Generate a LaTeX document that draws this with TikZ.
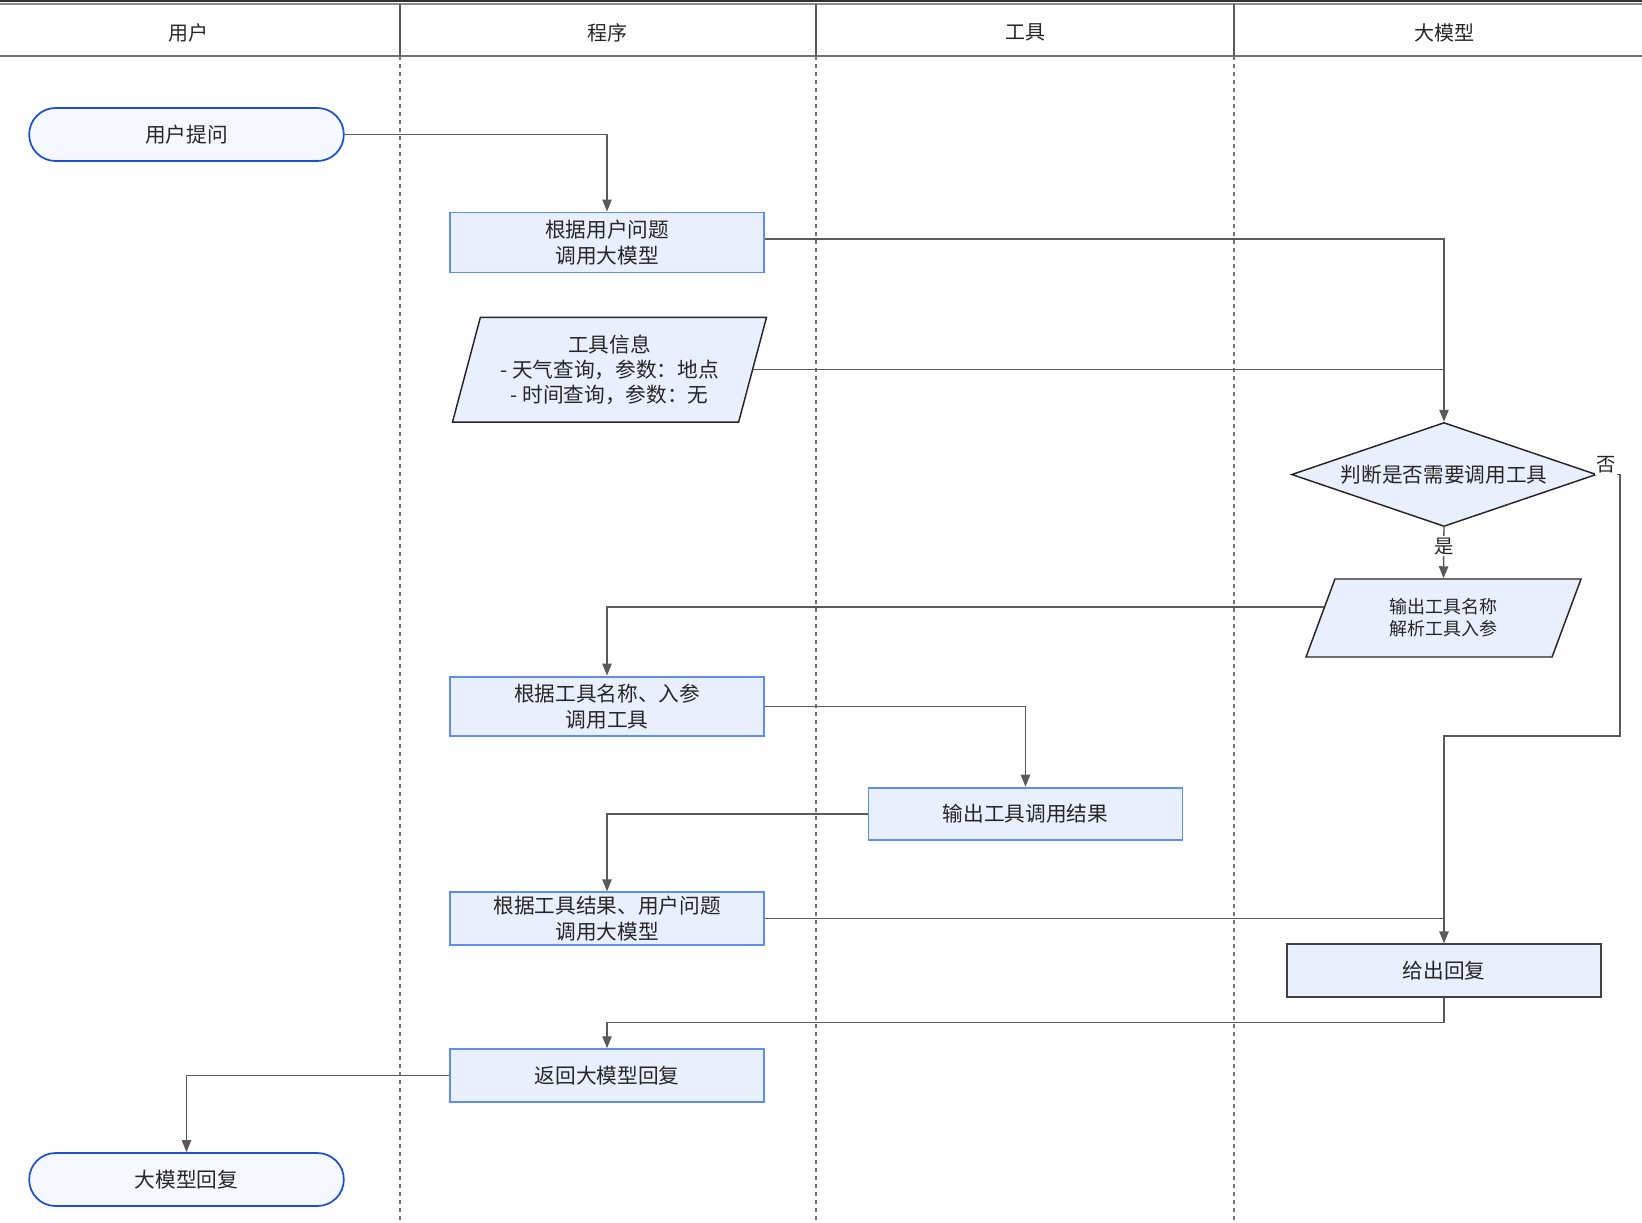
\documentclass[tikz,border=0pt]{standalone}
\usepackage{fontspec}
\setmainfont{Noto Sans CJK SC}
\usepackage{xcolor}
\usetikzlibrary{shapes.geometric, arrows.meta, calc}

\definecolor{boxline}{HTML}{5B8FF0}
\definecolor{boxfill}{HTML}{E9EFFD}
\definecolor{endline}{HTML}{1C4ED8}
\definecolor{endfill}{HTML}{F6F8FF}
\definecolor{flowline}{HTML}{5A5A5A}
\definecolor{textdark}{HTML}{262626}

\begin{document}
\begin{tikzpicture}[
    x=0.75pt, y=-0.75pt,
    txt/.style={text=textdark, font=\fontsize{15.5}{19.5}\selectfont},
    box/.style={txt, rectangle, draw=boxline, fill=boxfill, line width=1.4pt, minimum width=235.5pt, minimum height=39.5pt, inner sep=2pt, align=center},
    endbox/.style={txt, rectangle, rounded corners=19.8pt, draw=endline, fill=endfill, line width=1.3pt, minimum width=236pt, minimum height=39.75pt, align=center},
    para/.style={txt, trapezium, trapezium stretches body, draw=black!85, fill=boxfill, line width=1.1pt, inner sep=1pt, align=center},
    decide/.style={txt, diamond, aspect=3, draw=black!85, fill=boxfill, line width=1.1pt, inner sep=0pt, minimum width=228.75pt, minimum height=78pt},
    lane/.style={txt, font=\fontsize{15}{18}\selectfont},
    lbl/.style={txt, font=\fontsize{14.5}{17}\selectfont, fill=white, inner sep=1pt},
    arrow/.style={draw=flowline, line width=1.1pt, -{Triangle[length=9pt, width=7pt]}},
    joinline/.style={draw=flowline, line width=1.1pt}
]
\useasboundingbox (0,0) rectangle (1642,1222);

% swimlane header
\draw[line width=1.5pt, black!80] (0,1) -- (1642,1);
\draw[line width=1.1pt, black!45] (0,4) -- (1642,4);
\draw[line width=1.4pt, black!55] (0,56) -- (1642,56);
\foreach \lx in {400, 816, 1234} {
    \draw[line width=1.1pt, black!65] (\lx,4) -- (\lx,56);
    \draw[line width=0.8pt, black!55, dash pattern=on 3pt off 3pt] (\lx,56) -- (\lx,1222);
}
\node[lane] (laneuser) at (188.5,32.5) {用户};
\node[lane] (laneprog) at (607,32.5) {程序};
\node[lane] (lanetool) at (1025,32.5) {工具};
\node[lane] (lanellm) at (1444,32.5) {大模型};

% nodes
\node[endbox] (ask) at (186.5,134.5) {用户提问};
\node[box, minimum height=45pt] (callllm) at (607,242.5) {根据用户问题\\调用大模型};
\node[para, minimum width=235.5pt, minimum height=78.5pt, trapezium left angle=69, trapezium right angle=111,
      font=\fontsize{15.5}{18.8}\selectfont] (toolinfo) at (609.5,369.7)
      {工具信息\\- 天气查询，参数：地点\\- 时间查询，参数：无};
\node[decide] (judge) at (1444,474.5) {判断是否需要调用工具};
\node[para, minimum width=206.25pt, minimum height=58.5pt, trapezium left angle=55, trapezium right angle=125,
      font=\fontsize{13.5}{16.5}\selectfont] (parse) at (1443.5,618) {输出工具名称\\解析工具入参};
\node[box, minimum height=44.6pt] (calltool) at (607,706.3) {根据工具名称、入参\\调用工具};
\node[box] (toolout) at (1025.5,814) {输出工具调用结果};
\node[box] (callllm2) at (607,918.7) {根据工具结果、用户问题\\调用大模型};
\node[box, draw=black!75, minimum height=39.75pt] (reply) at (1444,970.8) {给出回复};
\node[box] (ret) at (607,1075.5) {返回大模型回复};
\node[endbox] (answer) at (186.5,1179.5) {大模型回复};

\coordinate (nobend) at (1620,736);
\coordinate (backbend) at (1444,1022.7);

% connectors
\draw[arrow] (ask.east) -| (callllm.north);
\draw[arrow] ([yshift=2.6pt]callllm.east) -| (judge.north);
\draw[joinline] (toolinfo.east) -- (toolinfo.east -| judge.north);
\draw[arrow] (judge.south) -- node[lbl, pos=0.37] (yeslbl) {是} (parse.north);
\draw[arrow] (judge.east) -| (nobend) -| (reply.north);
\node[lbl] (nolbl) at (1606,465) {否};
\draw[arrow] ($(parse.top left corner)!0.36!(parse.bottom left corner)$) -| (calltool.north);
\draw[arrow] (calltool.east) -| (toolout.north);
\draw[arrow] (toolout.west) -| (callllm2.north);
\draw[joinline] (callllm2.east) -- (callllm2.east -| reply.north);
\draw[arrow] (reply.south) -- (backbend) -| (ret.north);
\draw[arrow] (ret.west) -| (answer.north);

\end{tikzpicture}
\end{document}
